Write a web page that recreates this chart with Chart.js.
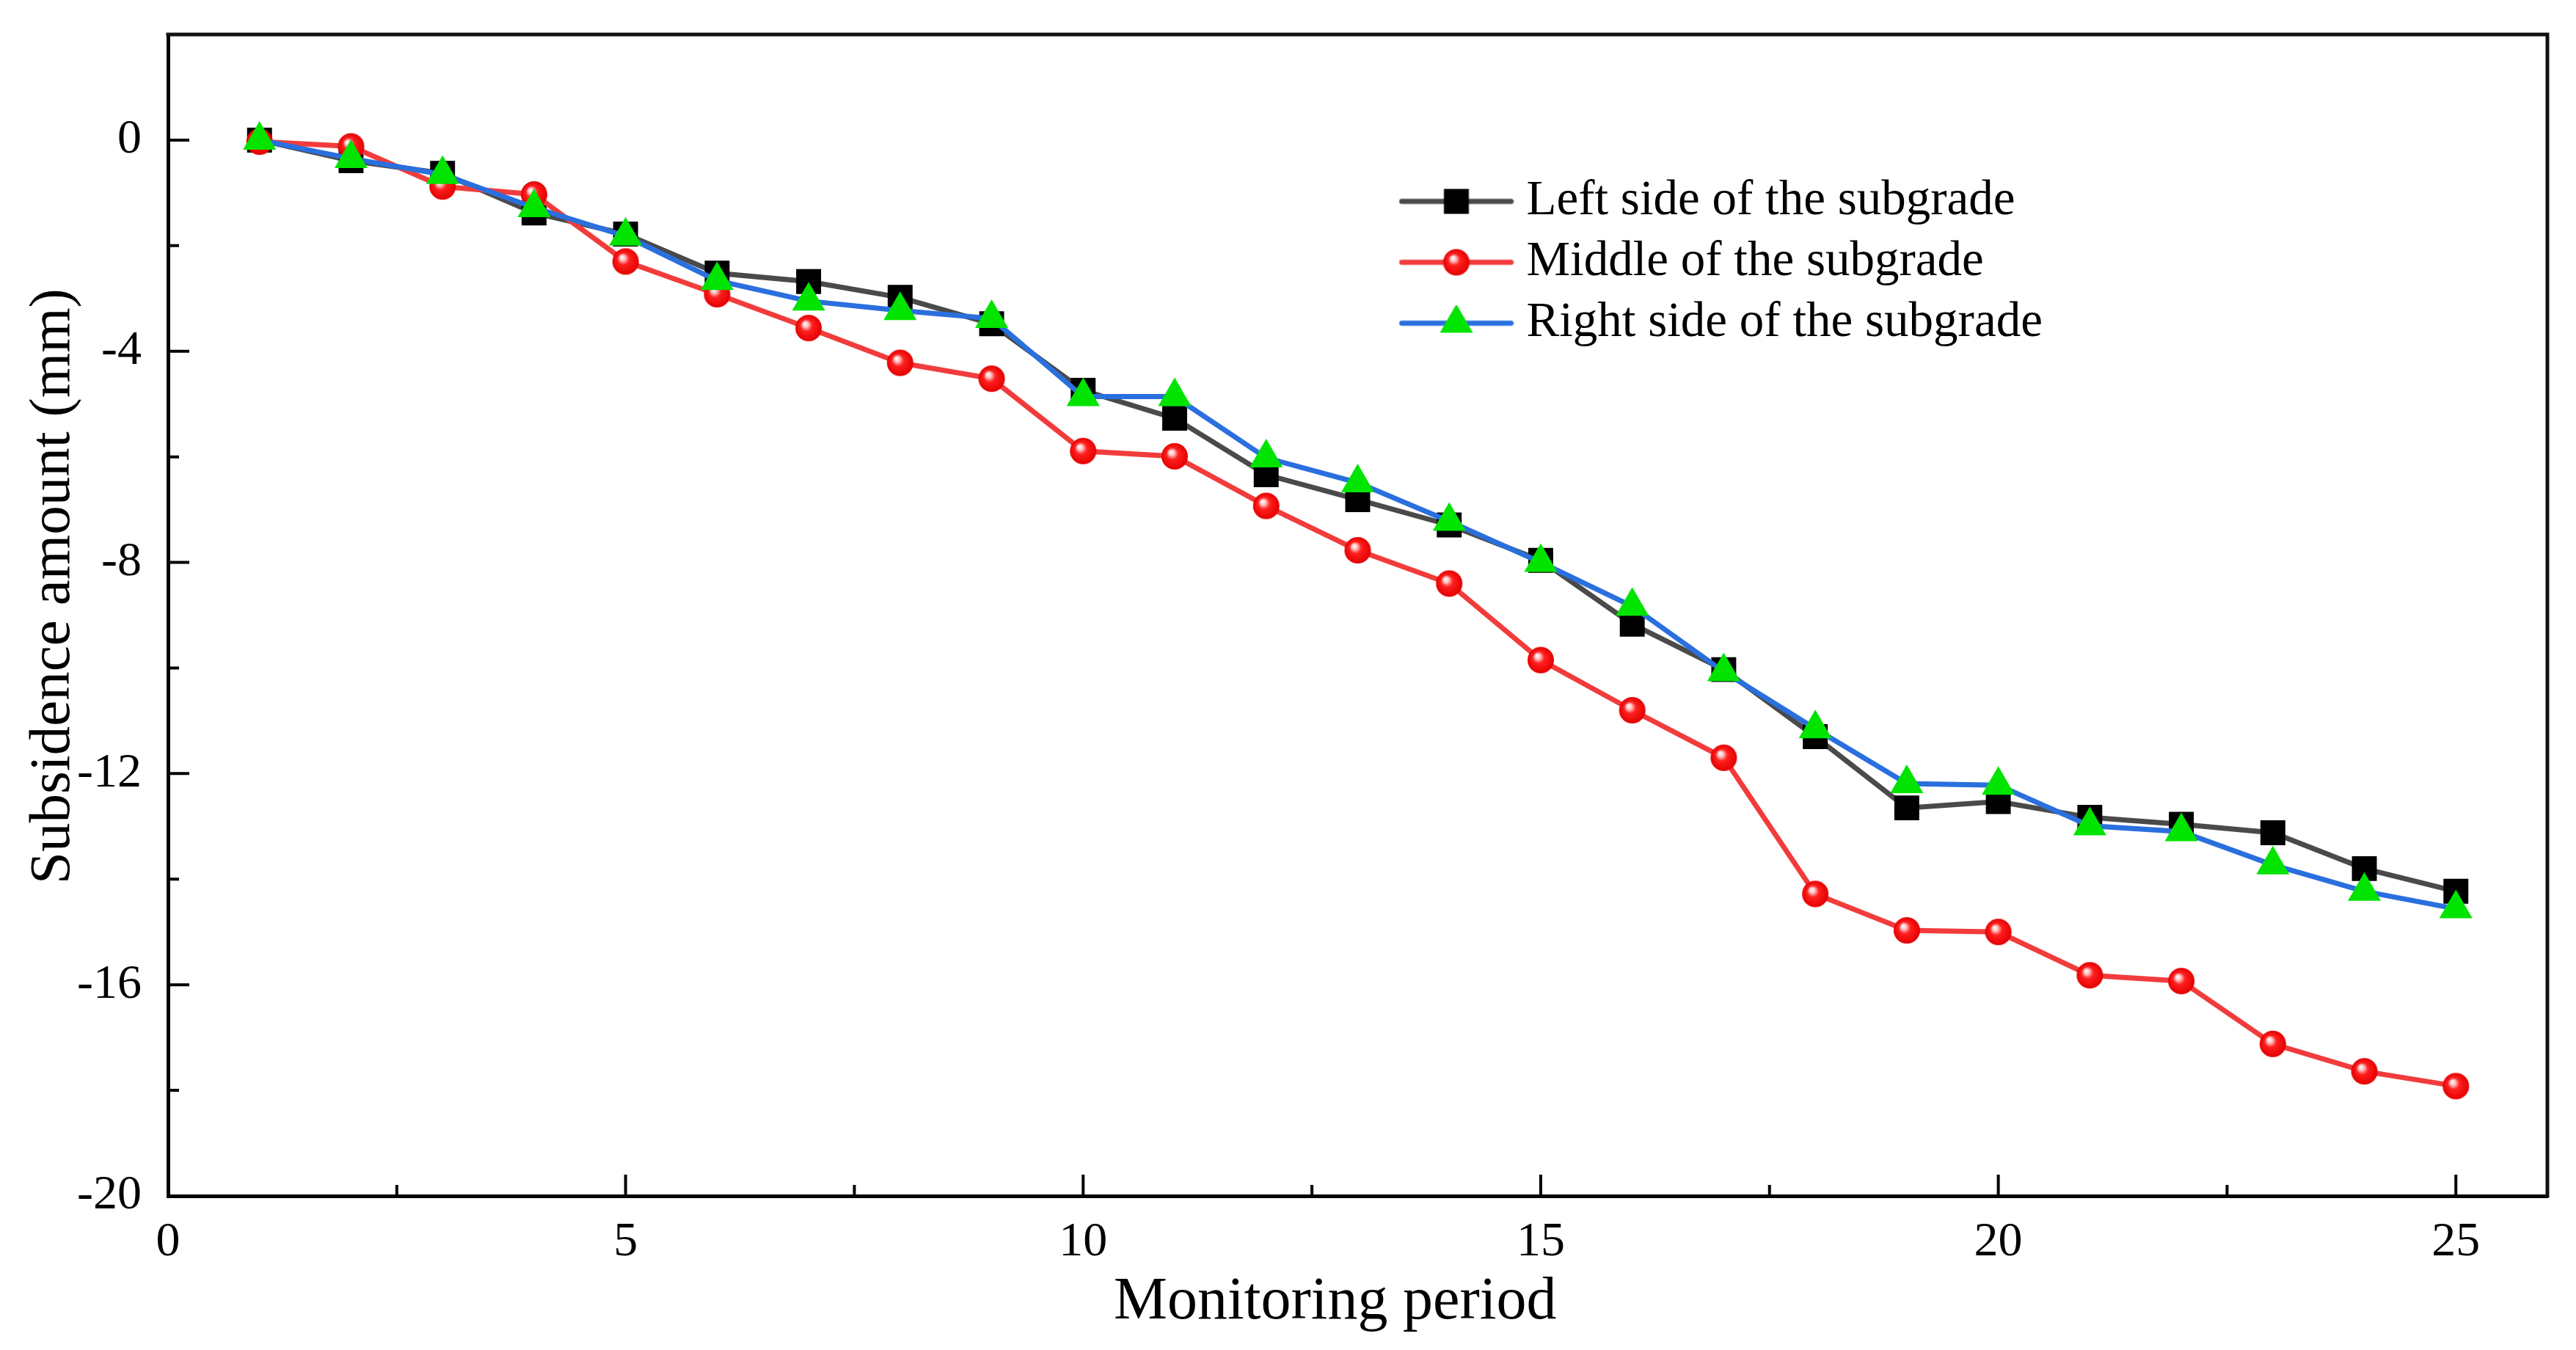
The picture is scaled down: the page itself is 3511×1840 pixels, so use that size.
<!DOCTYPE html>
<html><head><meta charset="utf-8">
<script src="https://cdn.jsdelivr.net/npm/chart.js@4.4.1/dist/chart.umd.min.js"></script>
<style>html,body{margin:0;padding:0;background:#fff;} #c{display:block;}</style>
</head><body>
<canvas id="c" width="3511" height="1840" style="width:3511px;height:1840px"></canvas>
<script>
// ---- data ----
const periods = [1,2,3,4,5,6,7,8,9,10,11,12,13,14,15,16,17,18,19,20,21,22,23,24,25];
const leftSide = [0,-0.39,-0.63,-1.38,-1.78,-2.52,-2.68,-2.98,-3.48,-4.74,-5.27,-6.34,-6.81,-7.29,-7.96,-9.17,-10.03,-11.3,-12.65,-12.53,-12.83,-12.96,-13.12,-13.8,-14.23];
const middle = [-0.03,-0.12,-0.88,-1.03,-2.3,-2.92,-3.56,-4.22,-4.52,-5.89,-5.99,-6.93,-7.77,-8.4,-9.85,-10.8,-11.7,-14.28,-14.97,-15.0,-15.82,-15.93,-17.12,-17.64,-17.92];
const rightSide = [0,-0.35,-0.65,-1.28,-1.82,-2.66,-3.05,-3.23,-3.38,-4.86,-4.86,-6.02,-6.49,-7.22,-8.0,-8.83,-10.07,-11.15,-12.19,-12.22,-12.99,-13.1,-13.73,-14.23,-14.56];
const seriesNames = ['Left side of the subgrade','Middle of the subgrade','Right side of the subgrade'];
const xTickValues = [0,5,10,15,20,25];
const xMinorValues = [2.5,7.5,12.5,17.5,22.5];
const yTickValues = [-20,-16,-12,-8,-4,0];
const yMinorValues = [-18,-14,-10,-6,-2];
const xTitle = 'Monitoring period';
const yTitle = 'Subsidence amount (mm)';

// ---- styles ----
const FONT = "'Liberation Serif', 'Times New Roman', serif";
const COL_LEFT_LINE = '#4a4a4a', COL_LEFT_MARK = '#000000';
const COL_MID_LINE = '#f23c3c';
const COL_RIGHT_LINE = '#2a6fde', COL_RIGHT_MARK = '#00e400';
const LINE_W = 7;

function makeBall(r){
  const s = Math.ceil(r*2+4);
  const c = document.createElement('canvas'); c.width = s; c.height = s;
  const g = c.getContext('2d');
  const cx = s/2, cy = s/2;
  const grad = g.createRadialGradient(cx - r*0.3, cy - r*0.35, 0, cx, cy, r);
  grad.addColorStop(0, '#ffffff');
  grad.addColorStop(0.2, '#ffc8c8');
  grad.addColorStop(0.45, '#ff2020');
  grad.addColorStop(1, '#e40000');
  g.fillStyle = grad; g.beginPath(); g.arc(cx, cy, r, 0, Math.PI*2); g.fill();
  return c;
}
const ball = makeBall(18);

function makeLegendIcon(color, marker){
  const c = document.createElement('canvas'); c.width = 157; c.height = 50;
  const g = c.getContext('2d');
  g.strokeStyle = color; g.lineWidth = LINE_W; g.lineCap = 'round';
  g.beginPath(); g.moveTo(4, 25); g.lineTo(153, 25); g.stroke();
  const cx = 78.5, cy = 25;
  if (marker === 'rect') { g.fillStyle = COL_LEFT_MARK; g.fillRect(cx-17, cy-17, 34, 34); }
  else if (marker === 'ball') { g.drawImage(ball, cx - ball.width/2, cy - ball.height/2); }
  else if (marker === 'tri') {
    const r = 26; g.fillStyle = COL_RIGHT_MARK; g.beginPath();
    g.moveTo(cx, cy - r);
    g.lineTo(cx + r*Math.sin(2*Math.PI/3), cy + r*0.5);
    g.lineTo(cx - r*Math.sin(2*Math.PI/3), cy + r*0.5);
    g.closePath(); g.fill();
  }
  return c;
}
const legendIcons = [makeLegendIcon(COL_LEFT_LINE,'rect'), makeLegendIcon(COL_MID_LINE,'ball'), makeLegendIcon(COL_RIGHT_LINE,'tri')];

const toXY = arr => periods.map((p, i) => ({x: p, y: arr[i]}));

const framePlugin = {
  id: 'frame',
  beforeDraw(chart){
    const lg = chart.legend;
    if (lg) {
      const w = lg.width, h = lg.height;
      lg.left = 1907; lg.top = 225; lg.right = lg.left + w; lg.bottom = lg.top + h;
    }
  },
  afterDraw(chart){
    const {ctx, chartArea: a, scales: {x, y}} = chart;
    ctx.save();
    ctx.strokeStyle = '#111'; ctx.lineWidth = 5; ctx.lineCap = 'square';
    ctx.beginPath(); ctx.moveTo(a.left, a.top); ctx.lineTo(a.right, a.top); ctx.lineTo(a.right, a.bottom); ctx.stroke();
    ctx.strokeStyle = '#000'; ctx.lineWidth = 4; ctx.lineCap = 'butt';
    ctx.beginPath();
    xTickValues.forEach(v => { const px = x.getPixelForValue(v); ctx.moveTo(px, a.bottom); ctx.lineTo(px, a.bottom - 29); });
    xMinorValues.forEach(v => { const px = x.getPixelForValue(v); ctx.moveTo(px, a.bottom); ctx.lineTo(px, a.bottom - 15); });
    yTickValues.forEach(v => { const py = y.getPixelForValue(v); ctx.moveTo(a.left, py); ctx.lineTo(a.left + 29, py); });
    yMinorValues.forEach(v => { const py = y.getPixelForValue(v); ctx.moveTo(a.left, py); ctx.lineTo(a.left + 15, py); });
    ctx.stroke();
    ctx.restore();
  }
};

const zeroPad = s => { s.paddingTop = 0; s.paddingBottom = 0; s.paddingLeft = 0; s.paddingRight = 0; };

new Chart(document.getElementById('c'), {
  type: 'line',
  data: {
    datasets: [
      { label: seriesNames[0], data: toXY(leftSide), borderColor: COL_LEFT_LINE, borderWidth: LINE_W,
        pointStyle: 'rect', pointRadius: 24, pointBackgroundColor: COL_LEFT_MARK, pointBorderWidth: 0, order: 2, tension: 0 },
      { label: seriesNames[1], data: toXY(middle), borderColor: COL_MID_LINE, borderWidth: LINE_W,
        pointStyle: ball, pointRadius: 18, pointBorderWidth: 0, order: 1, tension: 0 },
      { label: seriesNames[2], data: toXY(rightSide), borderColor: COL_RIGHT_LINE, borderWidth: LINE_W,
        pointStyle: 'triangle', pointRadius: 26, pointBackgroundColor: COL_RIGHT_MARK, pointBorderWidth: 0, order: 0, tension: 0 }
    ]
  },
  options: {
    responsive: false, animation: false, devicePixelRatio: 1,
    layout: { padding: { left: 0, top: 47, right: 39, bottom: 0 } },
    plugins: {
      tooltip: { enabled: false },
      legend: {
        position: 'chartArea', align: 'start',
        labels: {
          usePointStyle: true, pointStyleWidth: 124, padding: 16, color: '#000',
          font: { family: FONT, size: 67 },
          generateLabels: (chart) => seriesNames.map((n, i) => ({
            text: n, pointStyle: legendIcons[i], fillStyle: 'rgba(0,0,0,0)', strokeStyle: 'rgba(0,0,0,0)',
            lineWidth: 0, hidden: false, datasetIndex: i, rotation: 0, fontColor: '#000'
          }))
        }
      }
    },
    scales: {
      x: {
        type: 'linear', position: 'bottom', min: 0, max: 26,
        afterBuildTicks: s => { s.ticks = xTickValues.map(v => ({value: v})); },
        afterFit: s => { s.height = 210; zeroPad(s); },
        grid: { display: false, drawTicks: false },
        border: { display: true, width: 5, color: '#000' },
        ticks: { font: { family: FONT, size: 66 }, color: '#000', padding: 24, maxRotation: 0, autoSkip: false },
        title: { display: true, text: xTitle + '   ', font: { family: FONT, size: 82 }, color: '#000', padding: { top: 0, bottom: 15 } }
      },
      y: {
        type: 'linear', position: 'left', min: -20, max: 2,
        afterBuildTicks: s => { s.ticks = yTickValues.map(v => ({value: v})); },
        afterFit: s => { s.width = 229; zeroPad(s); },
        grid: { display: false, drawTicks: false },
        border: { display: true, width: 5, color: '#000' },
        ticks: { font: { family: FONT, size: 66 }, color: '#000', padding: 36, autoSkip: false },
        title: { display: true, text: '    ' + yTitle, font: { family: FONT, size: 79 }, color: '#000', padding: { top: 26, bottom: 0 } }
      }
    }
  },
  plugins: [framePlugin]
});
</script>
</body></html>
